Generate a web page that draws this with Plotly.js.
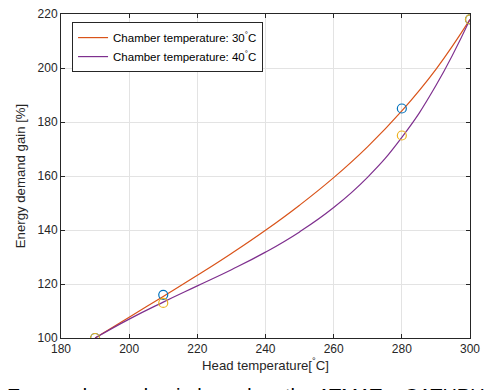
<!DOCTYPE html>
<html><head><meta charset="utf-8">
<script src="https://cdn.plot.ly/plotly-3.0.1.min.js"></script>
<style>html,body{margin:0;padding:0;background:#fff;overflow:hidden}</style>
</head><body><div id="chart" style="width:486px;height:390px"></div>
<script>
// measured points
const measX = [190, 210, 280, 300];
const meas30 = [100, 116, 185, 218];
const meas40 = [100, 113, 175, 218];
// fitted curves
const curveX = [190, 200, 210, 220, 230, 240, 250, 260, 270, 280, 290, 300];
const curve30 = [100, 107.7, 115.4, 123.2, 131.3, 139.9, 149.2, 159.4, 170.9, 184.1, 199.5, 218];
const curve40 = [100, 107, 113.3, 119.3, 125.3, 131.8, 139.3, 148.3, 159.6, 174.3, 193.5, 218];
const xTicks = [180, 200, 220, 240, 260, 280, 300];
const yTicks = [100, 120, 140, 160, 180, 200, 220];

const fam = 'Liberation Sans, Arial, sans-serif';
const tickFont = {family: fam, size: 12, color: '#262626'};
const titleFont = {family: fam, size: 13.2, color: '#262626'};
const traces = [
  {x: curveX, y: curve30, mode: 'lines', line: {color: '#D95319', width: 1.2, shape: 'spline', smoothing: 1.3},
   name: 'Chamber temperature: 30<sup>°</sup>C'},
  {x: curveX, y: curve40, mode: 'lines', line: {color: '#7E2F8E', width: 1.2, shape: 'spline', smoothing: 1.3},
   name: 'Chamber temperature: 40<sup>°</sup>C'},
  {x: measX, y: meas30, mode: 'markers', showlegend: false,
   marker: {symbol: 'circle-open', size: 9, color: '#0072BD', line: {width: 1.2}}},
  {x: measX, y: meas40, mode: 'markers', showlegend: false,
   marker: {symbol: 'circle-open', size: 9, color: '#EDB120', line: {width: 1.2}}}
];
const axBase = {
  showgrid: true, gridcolor: '#e3e3e3', gridwidth: 1,
  showline: true, linecolor: '#262626', linewidth: 1, mirror: 'ticks',
  ticks: 'inside', ticklen: 4, tickcolor: '#262626', zeroline: false,
  tickfont: tickFont
};
const layout = {
  width: 486, height: 390,
  margin: {l: 61, r: 16, t: 14, b: 52},
  paper_bgcolor: '#fff', plot_bgcolor: '#fff',
  font: tickFont,
  xaxis: Object.assign({}, axBase, {range: [180, 300], tickvals: xTicks,
    title: {text: 'Head temperature[<sup>°</sup>C]', font: titleFont, standoff: 4}}),
  yaxis: Object.assign({}, axBase, {range: [100, 220], tickvals: yTicks,
    title: {text: 'Energy demand gain [%]', font: titleFont, standoff: 8}}),
  showlegend: true,
  legend: {x: 0.027, y: 0.975, xanchor: 'left', yanchor: 'top',
    bgcolor: '#fff', bordercolor: '#262626', borderwidth: 1,
    font: {family: fam, size: 11.5, color: '#000'},
    tracegroupgap: 0, itemwidth: 30},
  annotations: [{
    text: 'Energy demand gain based on the ATMAT – CATHPU',
    xref: 'paper', yref: 'paper', x: -0.137, y: -0.139,
    xanchor: 'left', yanchor: 'top', showarrow: false,
    font: {family: fam, size: 20, color: '#000'}
  }]
};
Plotly.newPlot('chart', traces, layout, {displayModeBar: false, staticPlot: true});
</script></body></html>
